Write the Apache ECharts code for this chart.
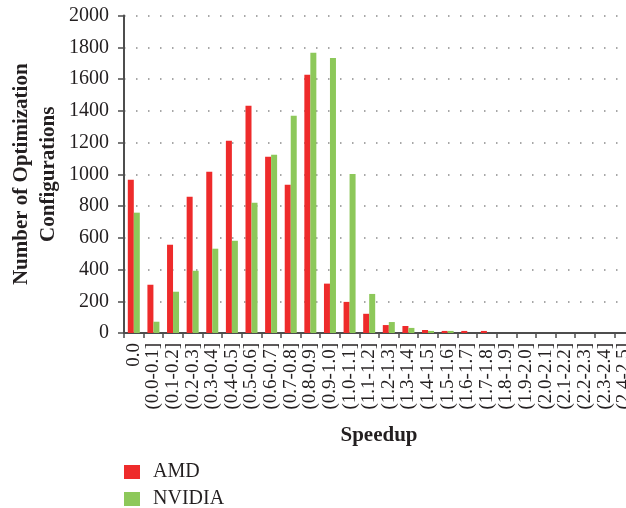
<!DOCTYPE html>
<html>
<head>
<meta charset="utf-8">
<script src="https://cdn.jsdelivr.net/npm/echarts@6/dist/echarts.min.js"></script>
<style>html,body{margin:0;padding:0;background:#fff;}#c{width:626px;height:508px;}</style>
</head>
<body>
<div id="c"></div>
<script>
const categories = ['0.0','(0.0-0.1]','(0.1-0.2]','(0.2-0.3]','(0.3-0.4]','(0.4-0.5]','(0.5-0.6]','(0.6-0.7]','(0.7-0.8]','(0.8-0.9]','(0.9-1.0]','(1.0-1.1]','(1.1-1.2]','(1.2-1.3]','(1.3-1.4]','(1.4-1.5]','(1.5-1.6]','(1.6-1.7]','(1.7-1.8]','(1.8-1.9]','(1.9-2.0]','(2.0-2.1]','(2.1-2.2]','(2.2-2.3]','(2.3-2.4]','(2.4-2.5]'];
const amd =    [965, 304, 556, 858, 1016, 1211, 1431, 1110, 934, 1626, 311, 196, 121, 50, 44, 19, 13, 13, 13, 0, 0, 0, 0, 0, 0, 0];
const nvidia = [758, 71, 260, 392, 531, 581, 821, 1123, 1368, 1765, 1733, 1002, 246, 69, 32, 13, 13, 0, 0, 0, 0, 0, 0, 0, 0, 0];
const seriesNames = ['AMD', 'NVIDIA'];
const yTicks = {min: 0, max: 2000, interval: 200};

const SERIF = '"Liberation Serif","DejaVu Serif",serif';
const TXT = '#231f20';
const legendBase = {
  orient: 'vertical', left: 124, padding: 0, itemWidth: 16, itemHeight: 14,
  icon: 'rect',
  textStyle: {fontFamily: SERIF, fontSize: 20, color: TXT, padding: [0, 0, 0, 8]}
};
const chart = echarts.init(document.getElementById('c'), null, {renderer: 'canvas'});
chart.setOption({
  animation: false,
  backgroundColor: '#fff',
  grid: {left: 124, top: 15.5, right: -8, bottom: 175, outerBoundsMode: 'none', containLabel: false},
  legend: [
    Object.assign({}, legendBase, {top: 462, data: [seriesNames[0]]}),
    Object.assign({}, legendBase, {top: 489, data: [seriesNames[1]]})
  ],
  xAxis: {
    type: 'category', data: categories,
    name: 'Speedup', nameLocation: 'middle', nameGap: 92,
    nameTextStyle: {fontFamily: SERIF, fontSize: 21, fontWeight: 'bold', color: TXT},
    axisLine: {lineStyle: {color: '#4d4d4d', width: 2}},
    axisTick: {show: true, length: 5, lineStyle: {color: '#4d4d4d', width: 1.5}},
    axisLabel: {rotate: 90, interval: 0, fontFamily: SERIF, fontSize: 19, color: TXT, margin: 10}
  },
  yAxis: {
    type: 'value', min: yTicks.min, max: yTicks.max, interval: yTicks.interval,
    name: 'Number of Optimization\nConfigurations', nameLocation: 'middle', nameRotate: 90, nameGap: 62,
    nameMoveOverlap: false,
    nameTextStyle: {fontFamily: SERIF, fontSize: 21, fontWeight: 'bold', color: TXT, lineHeight: 27},
    axisLine: {show: true, lineStyle: {color: '#4d4d4d', width: 2}},
    axisTick: {show: true, length: 6, lineStyle: {color: '#4d4d4d', width: 1.5}},
    axisLabel: {fontFamily: SERIF, fontSize: 20, color: TXT, margin: 15, formatter: v => String(v)},
    splitLine: {show: true, lineStyle: {color: '#8a8a8a', width: 1.5, type: [1.5, 10.5], dashOffset: -12}}
  },
  series: [
    {name: seriesNames[0], type: 'bar', data: amd, barWidth: 6, barGap: '0%', itemStyle: {color: '#ee2b2b'}},
    {name: seriesNames[1], type: 'bar', data: nvidia, barWidth: 6, barGap: '0%', itemStyle: {color: '#8dc85a'}}
  ]
});
</script>
</body>
</html>
